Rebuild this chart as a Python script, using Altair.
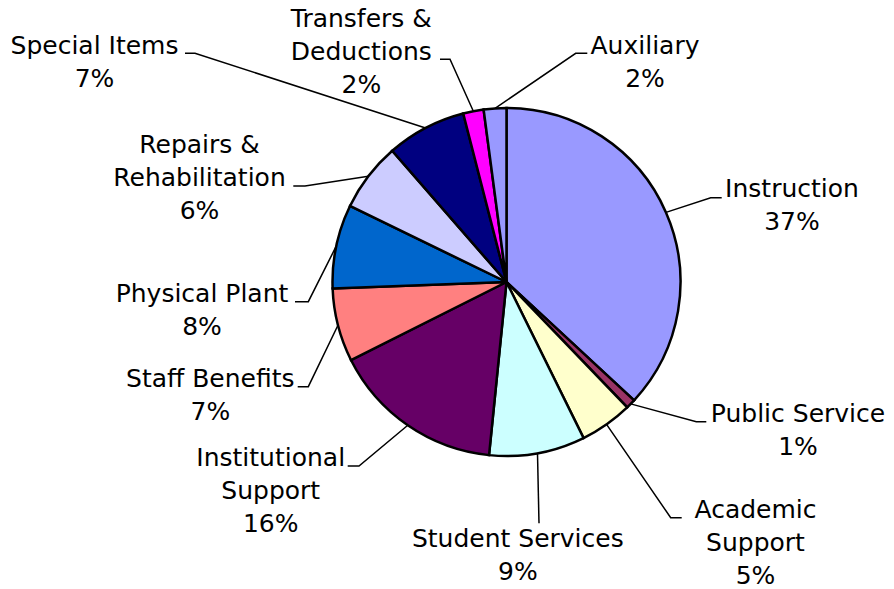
import altair as alt
import pandas as pd
import numpy as np

# ---------------- data ----------------
categories = ["Instruction", "Public Service", "Academic Support", "Student Services",
              "Institutional Support", "Staff Benefits", "Physical Plant",
              "Repairs & Rehabilitation", "Special Items", "Transfers & Deductions",
              "Auxiliary"]
label_text = ["Instruction", "Public Service", "Academic\nSupport", "Student Services",
              "Institutional\nSupport", "Staff Benefits", "Physical Plant",
              "Repairs &\nRehabilitation", "Special Items", "Transfers &\nDeductions",
              "Auxiliary"]
shares = [36.9, 0.9, 4.9, 8.9, 16.0, 6.8, 7.8, 6.4, 7.4, 1.9, 2.1]
colors = ["#9999FF", "#993366", "#FFFFCC", "#CCFFFF", "#660066", "#FF8080",
          "#0066CC", "#CCCCFF", "#000080", "#FF00FF", "#9999FF"]

# ---------------- layout (page pixel coordinates) ----------------
W, H, M = 878, 579, 8
CX, CY, R = 506.5, 282.0, 174.0
label_pos = [(792, 197), (798, 421.7), (755.5, 517.7), (517.8, 546.7),
             (270.7, 466), (210.3, 387.3), (202, 301.5), (199.5, 153.3),
             (94.5, 54), (361.3, 27.3), (645, 54)]
elbow_pos = [(710.7, 197.7), (696.3, 421.7), (670.7, 517.7), (539, 523.3),
             (359, 466), (308.3, 386.7), (308.3, 301.7), (305, 186),
             (195, 53.3), (450, 59.3), (575.7, 53.3)]
end_pos = [(721.7, 197.7), (706.3, 421.7), (681.7, 517.7), (539, 523.3),
           (347.7, 466), (297.7, 386.7), (295, 301.7), (293.3, 186),
           (185, 53.3), (440, 59.3), (587.3, 53.3)]

# ---------------- tables ----------------
total = sum(shares)
pie_df = pd.DataFrame({"category": categories, "share": shares,
                       "idx": list(range(len(categories)))})

cum = np.cumsum([0] + shares[:-1])
mid = [(c + s / 2) / total * 2 * np.pi for c, s in zip(cum, shares)]

line_rows = []
for i, cat in enumerate(categories):
    sx = CX + R * np.sin(mid[i])
    sy = CY - R * np.cos(mid[i])
    pts = [(sx, sy), elbow_pos[i], end_pos[i]]
    for k, (px, py) in enumerate(pts):
        line_rows.append({"category": cat, "k": k, "px": px, "py": py})
line_df = pd.DataFrame(line_rows)

text_df = pd.DataFrame({
    "category": categories,
    "label": [f"{t}\n{round(s / total * 100):.0f}%" for t, s in zip(label_text, shares)],
    "px": [p[0] for p in label_pos],
    "py": [p[1] for p in label_pos],
})

xs = alt.Scale(domain=[M, M + W], nice=False, zero=False)
ys = alt.Scale(domain=[M + H, M], nice=False, zero=False)

pie = alt.Chart(pie_df).mark_arc(radius=R, stroke="black", strokeWidth=2.5).encode(
    theta=alt.Theta("share:Q", stack=True),
    color=alt.Color("category:N", scale=alt.Scale(domain=categories, range=colors),
                    legend=None),
    order=alt.Order("idx:Q"),
    x=alt.value(CX - M),
    y=alt.value(CY - M),
)

lines = alt.Chart(line_df).mark_line(color="black", strokeWidth=1.5).encode(
    x=alt.X("px:Q", scale=xs, axis=None),
    y=alt.Y("py:Q", scale=ys, axis=None),
    detail="category:N",
    order="k:Q",
)

texts = alt.Chart(text_df).mark_text(
    font="DejaVu Sans", fontSize=25, align="center", baseline="alphabetic",
    lineBreak="\n", lineHeight=33, color="black"
).encode(
    x=alt.X("px:Q", scale=xs, axis=None),
    y=alt.Y("py:Q", scale=ys, axis=None),
    text="label:N",
)

chart = alt.layer(pie, lines, texts).properties(
    width=W, height=H, padding=0,
    autosize=alt.AutoSizeParams(type="none"),
    background="white",
).configure_view(stroke=None)

chart.save("out.html", embed_options={"renderer": "svg", "actions": False})
